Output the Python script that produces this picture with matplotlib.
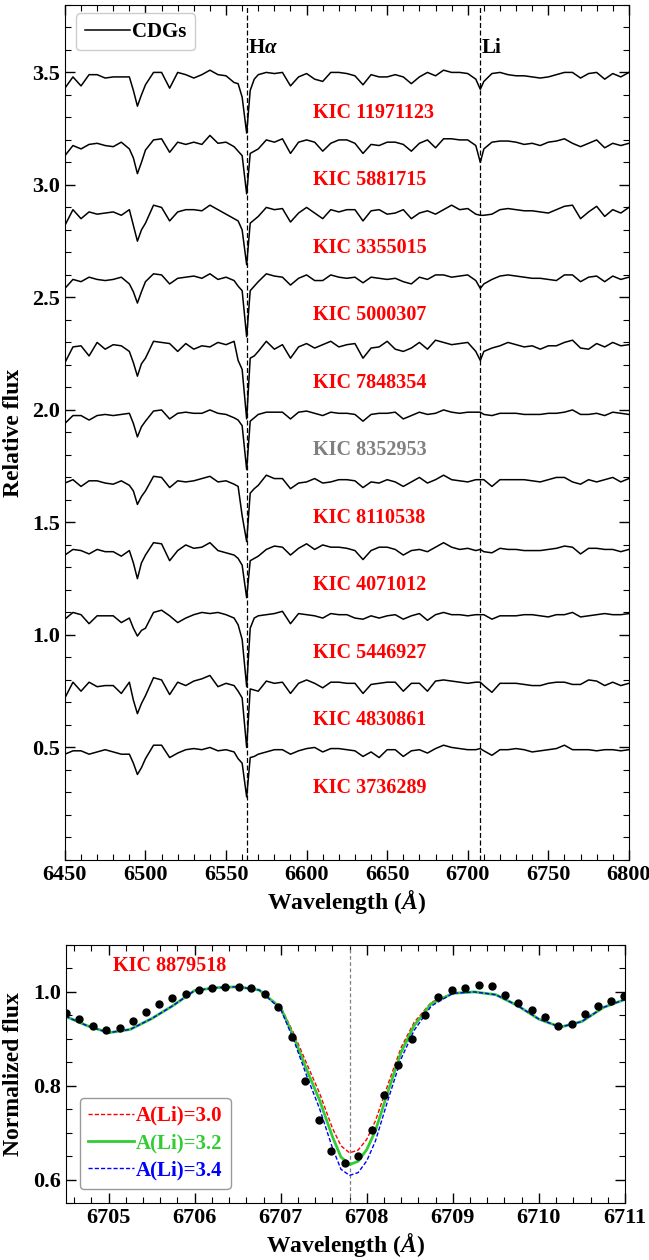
import numpy as np
import matplotlib.pyplot as plt
from matplotlib.ticker import MultipleLocator

plt.rcParams['font.family'] = ['Liberation Serif', 'DejaVu Serif']
plt.rcParams['font.weight'] = 'bold'
plt.rcParams['axes.labelweight'] = 'bold'
plt.rcParams['mathtext.fontset'] = 'custom'
plt.rcParams['mathtext.rm'] = 'Liberation Serif:bold'
plt.rcParams['mathtext.it'] = 'Liberation Serif:italic:bold'
plt.rcParams['mathtext.bf'] = 'Liberation Serif:bold'

# wavelength grid of the LAMOST MRS spectra (Angstrom)
wave = [6450, 6455, 6460, 6465, 6470, 6475, 6480, 6485, 6490, 6495, 6500, 6505,
        6510, 6515, 6520, 6525, 6530, 6535, 6540, 6545, 6550, 6555, 6560, 6562.8,
        6565, 6570, 6575, 6580, 6585, 6590, 6595, 6600, 6605, 6610, 6615, 6620,
        6625, 6630, 6635, 6640, 6645, 6650, 6655, 6660, 6665, 6670, 6675, 6680,
        6685, 6690, 6695, 6700, 6705, 6707.8, 6710, 6715, 6720, 6725, 6730, 6735,
        6740, 6745, 6750, 6755, 6760, 6765, 6770, 6775, 6780, 6785, 6790, 6795, 6800]
# extra samples across the 6495 blend and the H-alpha wings
wave_extra = [6492.5, 6497.5, 6557.5, 6567.5]

stars = ['KIC 11971123', 'KIC 5881715', 'KIC 3355015', 'KIC 5000307', 'KIC 7848354',
         'KIC 8352953', 'KIC 8110538', 'KIC 4071012', 'KIC 5446927', 'KIC 4830861',
         'KIC 3736289']
label_colors = ['red', 'red', 'red', 'red', 'red', 'gray', 'red', 'red', 'red', 'red', 'red']

flux_11971123 = [0.93, 0.98, 0.94, 0.99, 0.99, 0.975, 0.98, 0.98, 0.98, 0.85, 0.945, 1.0,
                 1.0, 0.93, 1.0, 0.99, 0.975, 0.99, 1.01, 0.99, 0.985, 0.955, 0.89, 0.73,
                 0.92, 0.99, 1.0, 0.995, 1.0, 0.94, 0.98, 0.995, 0.97, 0.96, 1.0, 1.0,
                 0.995, 0.985, 0.945, 0.99, 0.98, 0.98, 0.99, 0.98, 0.95, 0.98, 1.0, 0.985,
                 1.01, 1.0, 1.0, 0.995, 0.97, 0.925, 0.96, 0.995, 1.0, 0.99, 0.985, 0.985,
                 0.98, 0.975, 0.98, 0.99, 1.0, 1.0, 0.975, 0.995, 1.0, 0.97, 0.995, 0.98, 1.0]
flux_5881715 = [0.93, 0.975, 0.96, 0.98, 0.985, 0.975, 0.97, 0.99, 0.96, 0.85, 0.955, 1.0,
                1.005, 0.945, 0.99, 0.98, 0.99, 0.98, 1.02, 0.985, 0.99, 0.97, 0.93, 0.76,
                0.94, 0.96, 1.0, 0.99, 1.005, 0.94, 0.99, 1.0, 0.99, 0.95, 0.985, 1.0,
                1.0, 0.985, 0.94, 0.98, 0.975, 0.99, 0.99, 0.98, 0.95, 0.985, 1.0, 0.965,
                1.005, 1.005, 1.0, 1.0, 0.975, 0.90, 0.96, 0.99, 0.995, 0.995, 0.99, 0.98,
                0.985, 0.975, 0.99, 0.995, 1.005, 0.985, 0.97, 0.985, 1.0, 0.965, 0.985, 0.975, 0.985]
flux_3355015 = [0.92, 0.99, 0.95, 0.98, 0.97, 0.975, 0.98, 0.965, 0.99, 0.85, 0.93, 1.01,
                1.0, 0.94, 0.98, 0.99, 0.99, 0.985, 1.01, 0.99, 0.97, 0.95, 0.90, 0.745,
                0.93, 0.96, 1.0, 0.99, 0.995, 0.935, 0.975, 1.0, 0.975, 0.95, 0.99, 0.98,
                0.99, 0.99, 0.94, 0.985, 0.99, 0.97, 0.975, 0.99, 0.95, 0.975, 0.985, 0.97,
                0.99, 1.01, 0.99, 0.995, 0.97, 0.965, 0.965, 0.97, 0.99, 0.995, 0.99, 0.985,
                0.985, 0.98, 0.975, 0.99, 1.005, 1.01, 0.95, 0.98, 1.005, 0.96, 0.99, 0.975, 1.0]
flux_5000307 = [0.94, 0.98, 0.97, 0.99, 0.98, 0.975, 0.98, 0.99, 0.96, 0.875, 0.97, 1.005,
                1.0, 0.96, 0.985, 0.99, 0.995, 0.985, 1.005, 0.98, 0.99, 0.975, 0.93, 0.725,
                0.93, 0.97, 1.005, 0.995, 0.99, 0.955, 0.985, 1.0, 0.975, 0.975, 1.0, 0.99,
                0.985, 0.99, 0.965, 0.99, 0.985, 0.98, 0.985, 0.97, 0.96, 0.99, 0.98, 1.0,
                1.0, 0.99, 0.995, 1.0, 0.975, 0.94, 0.96, 0.98, 0.995, 1.0, 0.995, 0.99,
                0.985, 0.985, 0.98, 0.975, 1.0, 1.0, 0.97, 0.99, 0.995, 0.97, 0.995, 0.98, 0.99]
flux_7848354 = [0.91, 0.98, 0.985, 0.94, 1.0, 0.97, 0.99, 0.985, 0.96, 0.85, 0.93, 1.005,
                1.0, 0.995, 0.96, 0.995, 0.97, 0.985, 0.98, 1.0, 0.99, 1.005, 0.88, 0.66,
                0.93, 0.96, 1.005, 0.97, 0.99, 0.93, 0.98, 0.995, 0.975, 0.99, 1.005, 0.98,
                0.99, 0.995, 0.93, 0.975, 0.98, 1.005, 0.97, 0.96, 0.975, 1.0, 0.97, 1.01,
                1.0, 0.99, 0.995, 1.0, 0.96, 0.92, 0.96, 0.975, 0.985, 1.0, 0.99, 0.98,
                0.985, 0.97, 0.985, 0.985, 1.0, 1.01, 0.975, 0.97, 0.995, 0.98, 1.0, 0.985, 0.99]
flux_8352953 = [0.94, 0.975, 0.975, 0.955, 0.975, 0.98, 0.975, 0.98, 0.985, 0.88, 0.95, 0.995,
                1.0, 0.96, 0.985, 0.99, 0.985, 0.985, 1.0, 0.985, 0.98, 0.965, 0.93, 0.735,
                0.95, 0.98, 0.99, 0.99, 0.99, 0.96, 0.99, 0.995, 0.985, 0.975, 0.99, 0.985,
                0.985, 0.98, 0.95, 0.98, 0.985, 0.985, 0.99, 0.96, 0.975, 0.99, 0.98, 0.985,
                1.0, 0.99, 0.985, 0.99, 0.99, 0.99, 0.98, 0.975, 0.985, 0.985, 0.985, 0.98,
                0.98, 0.98, 0.985, 0.985, 0.99, 1.0, 0.98, 0.98, 0.985, 0.975, 0.99, 0.985, 0.98]
flux_8110538 = [0.975, 0.99, 0.96, 0.985, 0.985, 0.975, 0.97, 0.985, 0.965, 0.88, 0.94, 1.005,
                1.0, 0.955, 0.985, 0.98, 0.985, 0.995, 1.005, 0.98, 0.985, 0.97, 0.83, 0.715,
                0.93, 0.965, 1.01, 0.995, 0.995, 0.95, 0.975, 0.98, 0.995, 0.975, 0.98, 0.99,
                0.99, 0.985, 0.955, 0.98, 0.975, 0.99, 0.98, 0.96, 0.98, 1.0, 0.975, 0.99,
                1.01, 0.99, 0.985, 0.98, 0.99, 0.99, 0.99, 0.96, 0.99, 0.99, 0.99, 0.99,
                0.985, 0.98, 0.99, 1.0, 1.0, 0.98, 0.97, 0.99, 0.98, 0.99, 1.0, 0.98, 0.995]
flux_4071012 = [0.955, 0.98, 0.975, 0.96, 0.98, 0.97, 0.97, 0.95, 0.975, 0.85, 0.955, 1.01,
                1.005, 0.93, 0.975, 1.0, 0.985, 0.99, 1.01, 0.975, 0.965, 0.955, 0.91, 0.765,
                0.93, 0.95, 0.98, 0.995, 0.99, 0.955, 0.985, 1.005, 0.98, 1.0, 0.99, 0.99,
                0.985, 0.975, 0.935, 0.975, 0.99, 0.99, 0.98, 0.955, 0.975, 0.98, 0.97, 0.99,
                1.01, 0.99, 0.98, 0.985, 0.975, 0.98, 0.97, 0.965, 0.985, 0.98, 0.98, 0.975,
                0.975, 0.975, 0.98, 0.985, 0.995, 0.99, 0.96, 0.985, 0.985, 0.98, 0.98, 0.97, 0.98]
flux_5446927 = [0.97, 1.0, 0.99, 0.95, 0.985, 0.985, 0.985, 0.955, 0.975, 0.895, 0.93, 1.0,
                1.01, 0.985, 0.955, 0.975, 0.99, 1.0, 0.995, 1.0, 0.99, 0.975, 0.88, 0.67,
                0.93, 0.985, 0.99, 0.995, 1.005, 0.95, 0.995, 0.99, 0.985, 0.975, 0.995, 0.99,
                0.99, 0.975, 0.97, 0.985, 0.975, 0.985, 0.99, 0.97, 0.985, 0.995, 0.965, 0.99,
                1.0, 0.99, 0.99, 0.985, 0.99, 0.99, 0.99, 0.97, 0.985, 0.985, 0.985, 0.99,
                0.99, 0.985, 0.98, 0.99, 0.99, 1.0, 0.98, 0.985, 0.99, 0.995, 0.99, 0.99, 0.995]
flux_4830861 = [0.92, 0.99, 0.95, 0.99, 0.97, 0.975, 0.975, 0.94, 0.99, 0.85, 0.93, 1.01,
                1.0, 0.935, 0.99, 0.975, 0.995, 1.005, 1.02, 0.97, 0.985, 0.975, 0.92, 0.70,
                0.96, 0.95, 0.995, 0.985, 0.99, 0.94, 0.985, 1.0, 0.985, 0.965, 0.99, 0.99,
                0.985, 0.985, 0.94, 0.98, 0.985, 0.99, 0.99, 0.95, 0.985, 0.985, 0.95, 0.995,
                1.0, 0.995, 0.99, 0.985, 0.99, 0.99, 0.975, 0.945, 0.985, 0.985, 0.985, 0.98,
                0.975, 0.975, 0.985, 0.99, 0.99, 0.98, 0.98, 1.0, 0.995, 0.975, 0.99, 0.975, 0.985]
flux_3736289 = [0.97, 0.985, 0.985, 0.97, 0.98, 0.99, 0.98, 0.97, 0.97, 0.88, 0.95, 1.01,
                1.01, 0.955, 0.975, 0.99, 0.995, 0.99, 1.0, 0.985, 0.99, 0.98, 0.93, 0.78,
                0.955, 0.97, 0.98, 0.99, 0.99, 0.97, 0.985, 0.995, 1.0, 0.98, 0.995, 0.995,
                0.99, 0.985, 0.96, 0.98, 0.955, 0.99, 0.99, 0.96, 0.985, 0.99, 0.975, 0.995,
                1.01, 1.0, 0.995, 0.99, 0.99, 0.995, 0.985, 0.965, 0.99, 0.99, 0.995, 0.99,
                0.98, 0.985, 0.99, 0.995, 1.01, 0.99, 0.99, 0.99, 0.985, 0.99, 0.99, 0.985, 0.99]

# flux at wave_extra, same star order
extra_11971123 = [0.92, 0.90, 0.95, 0.97]
extra_5881715 = [0.92, 0.90, 0.95, 0.95]
extra_3355015 = [0.92, 0.90, 0.94, 0.945]
extra_5000307 = [0.925, 0.925, 0.95, 0.95]
extra_7848354 = [0.91, 0.905, 0.92, 0.94]
extra_8352953 = [0.94, 0.925, 0.955, 0.965]
extra_8110538 = [0.94, 0.915, 0.96, 0.95]
extra_4071012 = [0.92, 0.92, 0.94, 0.94]
extra_5446927 = [0.93, 0.92, 0.945, 0.975]
extra_4830861 = [0.91, 0.895, 0.95, 0.955]
extra_3736289 = [0.93, 0.91, 0.95, 0.96]

fluxes = [flux_11971123, flux_5881715, flux_3355015, flux_5000307, flux_7848354,
          flux_8352953, flux_8110538, flux_4071012, flux_5446927, flux_4830861,
          flux_3736289]
extras = [extra_11971123, extra_5881715, extra_3355015, extra_5000307, extra_7848354,
          extra_8352953, extra_8110538, extra_4071012, extra_5446927, extra_4830861,
          extra_3736289]

# Li 6707.8 fit for KIC 8879518: observed points and synthetic spectra
obs_wave = [6704.51, 6704.66, 6704.82, 6704.97, 6705.13, 6705.28, 6705.44, 6705.58,
            6705.74, 6705.90, 6706.05, 6706.20, 6706.35, 6706.51, 6706.66, 6706.82,
            6706.97, 6707.13, 6707.28, 6707.44, 6707.59, 6707.75, 6707.90, 6708.06,
            6708.20, 6708.36, 6708.52, 6708.68, 6708.83, 6708.99, 6709.14, 6709.30,
            6709.45, 6709.61, 6709.76, 6709.92, 6710.07, 6710.22, 6710.38, 6710.53,
            6710.69, 6710.84, 6710.99]
obs_flux = [0.955, 0.942, 0.928, 0.918, 0.923, 0.939, 0.957, 0.974,
            0.986, 0.996, 1.004, 1.009, 1.011, 1.011, 1.008, 0.996,
            0.967, 0.904, 0.811, 0.727, 0.662, 0.636, 0.650, 0.705,
            0.780, 0.844, 0.900, 0.951, 0.989, 1.004, 1.008, 1.014,
            1.012, 0.994, 0.977, 0.962, 0.946, 0.927, 0.931, 0.953,
            0.971, 0.981, 0.991]

syn_wave = [6704.5, 6704.75, 6705.0, 6705.25, 6705.5, 6705.75, 6706.0, 6706.25, 6706.5,
            6706.75, 6707.0, 6707.15, 6707.3, 6707.45, 6707.6, 6707.7, 6707.8, 6707.9,
            6708.0, 6708.1, 6708.25, 6708.4, 6708.55, 6708.75, 6709.0, 6709.25, 6709.5,
            6709.75, 6710.0, 6710.25, 6710.5, 6710.75, 6711.0]
syn_li30 = [0.948, 0.928, 0.913, 0.920, 0.943, 0.971, 1.003, 1.009, 1.011,
            1.004, 0.968, 0.912, 0.848, 0.785, 0.710, 0.672, 0.657, 0.663,
            0.686, 0.725, 0.805, 0.882, 0.935, 0.978, 0.997, 1.000, 0.994,
            0.971, 0.942, 0.925, 0.937, 0.967, 0.984]
syn_li32 = [0.948, 0.928, 0.913, 0.920, 0.943, 0.971, 1.003, 1.009, 1.011,
            1.004, 0.966, 0.905, 0.835, 0.770, 0.692, 0.648, 0.632, 0.639,
            0.664, 0.704, 0.790, 0.872, 0.928, 0.975, 0.997, 1.000, 0.994,
            0.971, 0.942, 0.925, 0.937, 0.967, 0.984]
syn_li34 = [0.948, 0.928, 0.913, 0.920, 0.943, 0.971, 1.003, 1.009, 1.011,
            1.004, 0.963, 0.898, 0.822, 0.752, 0.668, 0.622, 0.609, 0.615,
            0.640, 0.682, 0.772, 0.858, 0.918, 0.970, 0.997, 1.000, 0.994,
            0.971, 0.942, 0.925, 0.937, 0.967, 0.984]

fig = plt.figure(figsize=(6.49, 12.6), dpi=100)
ax1 = fig.add_axes([0.100, 0.3175, 0.869, 0.6786])
ax2 = fig.add_axes([0.101, 0.0452, 0.862, 0.2048])

# stacked spectra, each shifted down by 0.3
all_wave = np.array(wave + wave_extra)
order = np.argsort(all_wave)
for i, (name, flux, extra) in enumerate(zip(stars, fluxes, extras)):
    offset = 2.5 - 0.3 * i
    f = np.array(flux + extra)
    ax1.plot(all_wave[order], f[order] + offset, color='k', lw=1.1,
             label='CDGs' if i == 0 else None)
    ax1.text(6604, offset + 0.82, name, color=label_colors[i], fontsize=14.5,
             fontweight='bold', ha='left', va='center')

ax1.axvline(6562.8, color='k', ls=(0, (4, 2)), lw=0.9)
ax1.axvline(6707.8, color='k', ls=(0, (4, 2)), lw=0.9)
ax1.text(6563.6, 3.61, r'H$\alpha$', fontsize=15, fontweight='bold', ha='left', va='center')
ax1.text(6708.6, 3.61, 'Li', fontsize=15, fontweight='bold', ha='left', va='center')

ax1.set_xlim(6450, 6800)
ax1.set_ylim(0.0, 3.8)
ax1.set_yticks([0.5, 1.0, 1.5, 2.0, 2.5, 3.0, 3.5])
ax1.xaxis.set_major_locator(MultipleLocator(50))
ax1.xaxis.set_minor_locator(MultipleLocator(10))
ax1.yaxis.set_minor_locator(MultipleLocator(0.1))
ax1.set_xlabel('Wavelength ($Å$)', fontsize=17, labelpad=2)
ax1.set_ylabel('Relative flux', fontsize=17, labelpad=6)
ax1.legend(loc='upper left', bbox_to_anchor=(0.02, 0.99), borderaxespad=0,
           fontsize=15, handlelength=2.2, handletextpad=0.1, fancybox=True,
           edgecolor='#cccccc', framealpha=1)

# Li line fit panel
ax2.axvline(6707.8, color='gray', ls=(0, (3, 2)), lw=0.9)
ax2.plot(syn_wave, syn_li30, color='red', ls=(0, (3, 1.5)), lw=1.0, label='A(Li)=3.0')
ax2.plot(syn_wave, syn_li32, color='#33cc33', ls='-', lw=2.0, label='A(Li)=3.2')
ax2.plot(syn_wave, syn_li34, color='blue', ls=(0, (3, 1.5)), lw=1.0, label='A(Li)=3.4')
ax2.plot(obs_wave, obs_flux, 'o', color='k', ms=5)
ax2.text(6705.05, 1.055, 'KIC 8879518', color='red', fontsize=14.5, fontweight='bold',
         ha='left', va='center')

ax2.set_xlim(6704.5, 6711)
ax2.set_ylim(0.55, 1.10)
ax2.xaxis.set_major_locator(MultipleLocator(1))
ax2.xaxis.set_minor_locator(MultipleLocator(0.2))
ax2.yaxis.set_major_locator(MultipleLocator(0.2))
ax2.yaxis.set_minor_locator(MultipleLocator(0.05))
ax2.set_xlabel('Wavelength ($Å$)', fontsize=17, labelpad=2)
ax2.set_ylabel('Normalized flux', fontsize=17, labelpad=6)
ax2.legend(loc='lower left', bbox_to_anchor=(0.025, 0.055), borderaxespad=0,
           fontsize=15, handlelength=2.2, handletextpad=0.1, labelcolor='linecolor',
           fancybox=True, edgecolor='#999999', framealpha=1, labelspacing=0.35)

for ax in (ax1, ax2):
    ax.tick_params(which='both', direction='in', top=True, right=True, labelsize=16)
    ax.tick_params(which='major', length=7, width=1)
    ax.tick_params(which='minor', length=4, width=0.8)
    for lab in ax.get_xticklabels() + ax.get_yticklabels():
        lab.set_fontweight('bold')

fig.savefig('out.png', dpi=100)
